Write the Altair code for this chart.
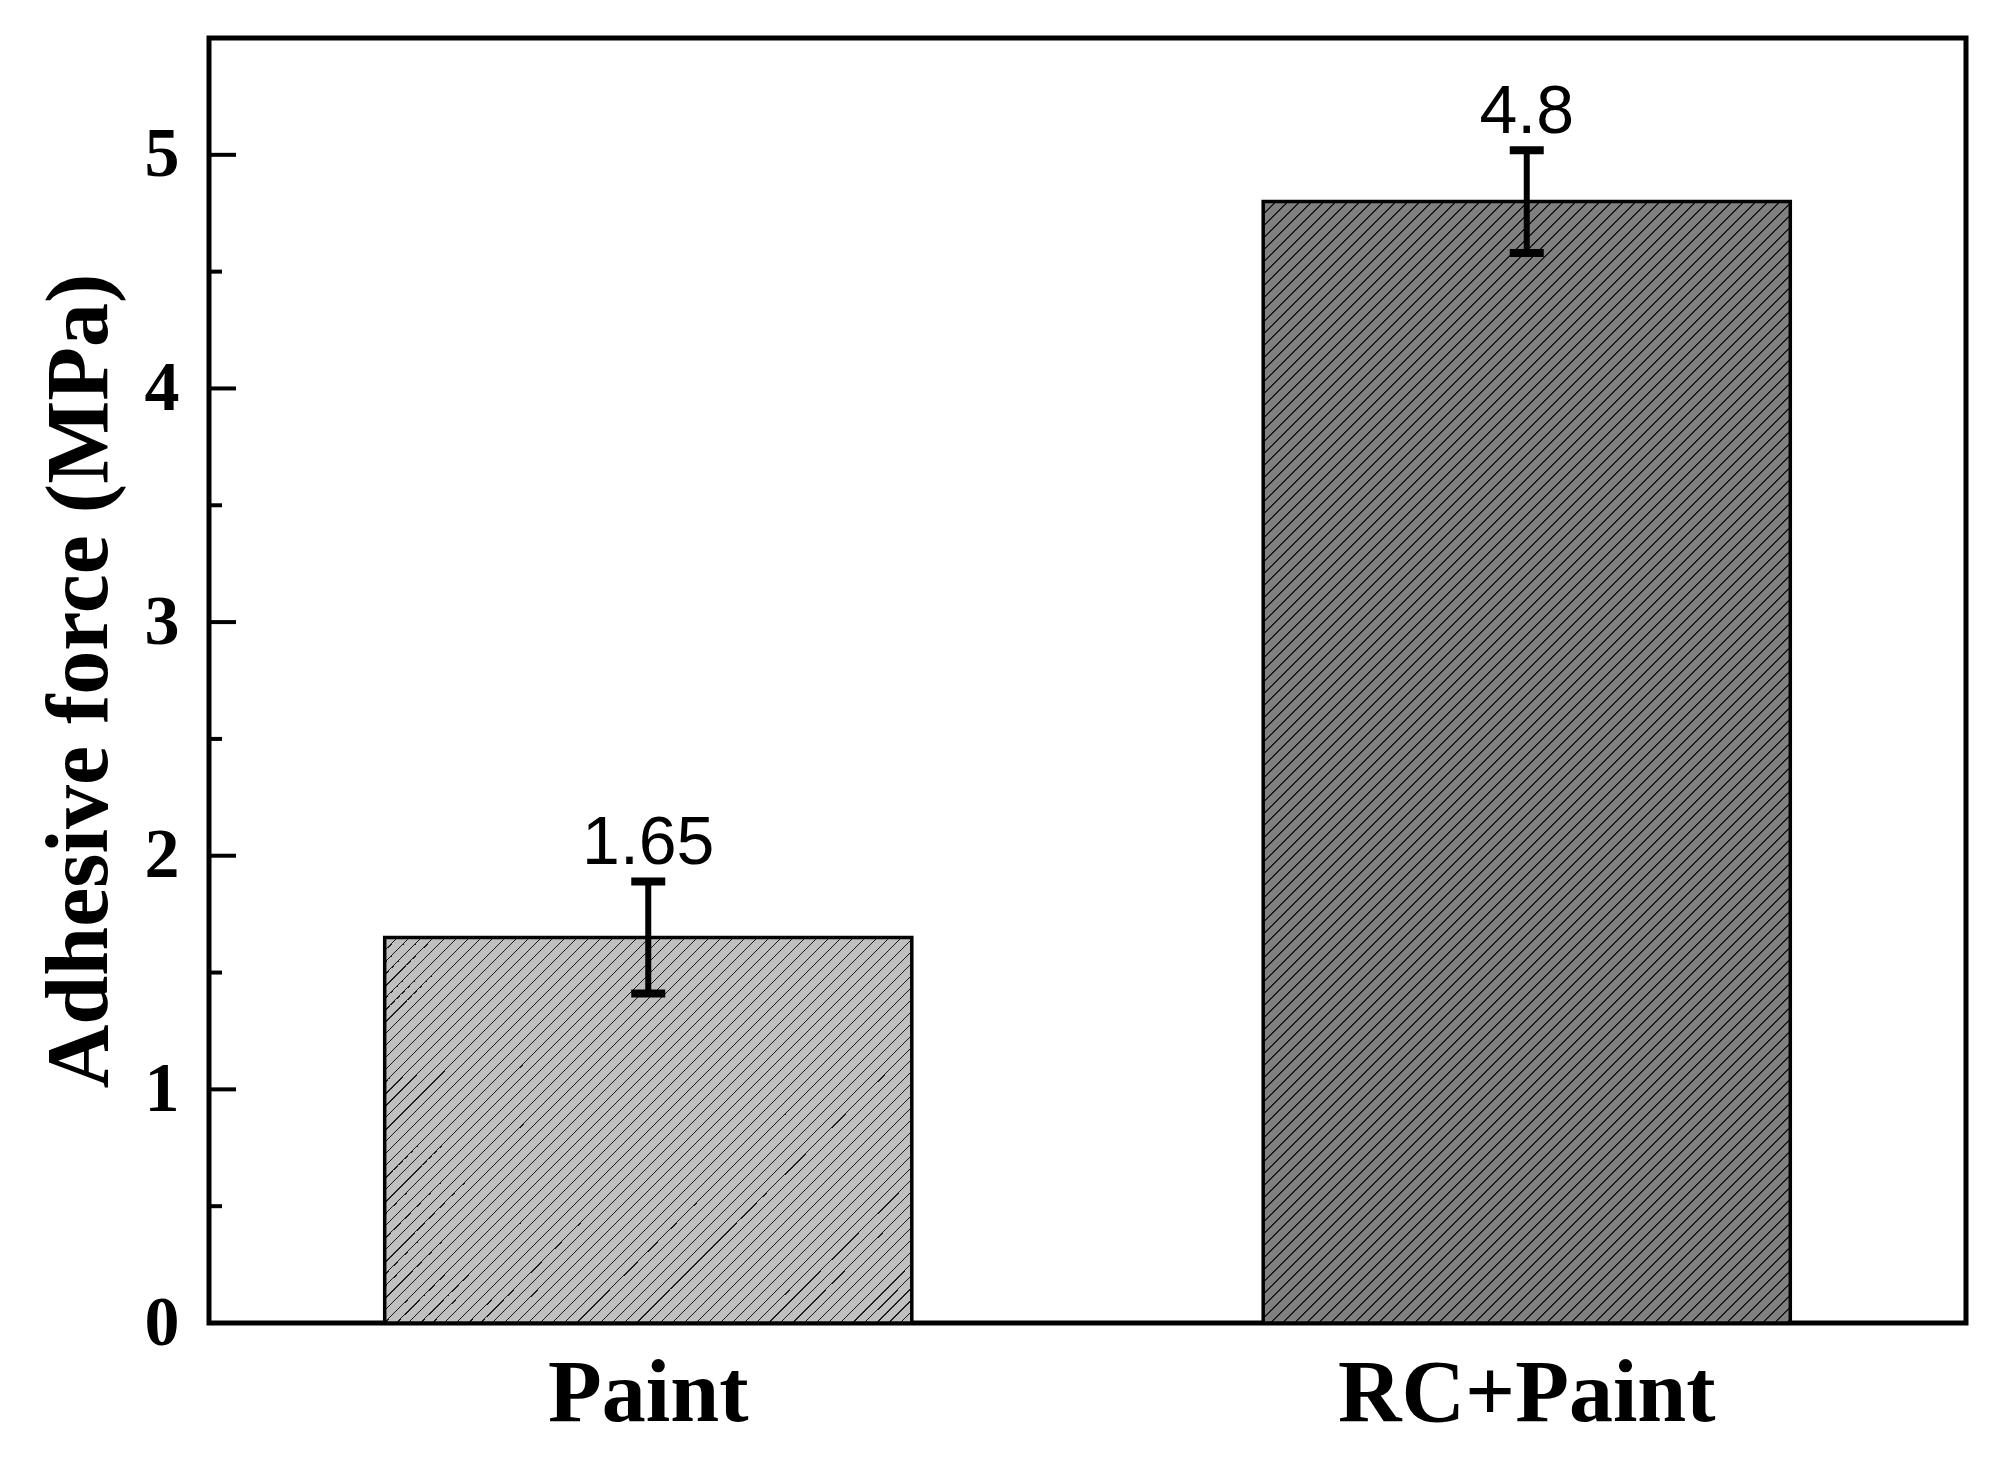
import altair as alt
import pandas as pd

# ---- data ----
categories = ["Paint", "RC+Paint"]
values = [1.65, 4.8]
errors = [0.24, 0.22]
fills = ["#c0c0c0", "#808080"]
y_ticks = [0, 1, 2, 3, 4, 5]
y_minor = [0.5, 1.5, 2.5, 3.5, 4.5, 5.5]

Y_MAX = 5.5
W, H = 1757, 1285
PAD_INNER, PAD_OUTER = 0.4, 0.2

df = pd.DataFrame({"cat": categories, "value": values, "err": errors})
df["lo"] = df["value"] - df["err"]
df["hi"] = df["value"] + df["err"]

x_scale = alt.Scale(domain=categories, paddingInner=PAD_INNER, paddingOuter=PAD_OUTER)
y_scale = alt.Scale(domain=[0, Y_MAX], nice=False, zero=True)

x_enc = alt.X("cat:N", scale=x_scale, sort=categories,
              axis=alt.Axis(title=None, labelAngle=0, ticks=False, tickSize=0, domain=False,
                            labelFont="Liberation Serif", labelFontWeight="bold",
                            labelFontSize=88, labelColor="black", labelLimit=0,
                            labelBaseline="alphabetic", labelPadding=97))
y_axis = alt.Axis(values=y_ticks, format="d", ticks=False, tickSize=0, domain=False,
                  grid=False, labelLimit=0,
                  labelFont="Liberation Serif", labelFontWeight="bold", labelFontSize=70,
                  labelColor="black", labelPadding=30,
                  title="Adhesive force (MPa)", titleFont="Liberation Serif",
                  titleFontWeight="bold", titleFontSize=88, titleColor="black",
                  titleAngle=270, titleAlign="center", titleBaseline="alphabetic",
                  titleX=-103, titleY=H / 2, titleLimit=0)

# hatch pattern ("/" lines) as a striped gradient in the bar's bounding box
step = W / (len(categories) - PAD_INNER + 2 * PAD_OUTER)
bar_w = step * (1 - PAD_INNER)
HATCH_GAP = 12.0      # px between lines along x / y
LINE_FRAC = 0.15


def hatch(value, fill):
    bh = value / Y_MAX * H
    total = bar_w + bh
    k = total / (bar_w ** 2 + bh ** 2)
    period = HATCH_GAP / total
    stops = []
    t = 0.0
    while t < 1.0:
        a = t
        b = min(t + period * LINE_FRAC, 1.0)
        c = min(t + period, 1.0)
        stops += [{"offset": a, "color": "#1a1a1a"}, {"offset": b, "color": "#1a1a1a"},
                  {"offset": b, "color": fill}, {"offset": c, "color": fill}]
        t += period
    return {"gradient": "linear", "x1": 0, "y1": 0,
            "x2": bar_w * k, "y2": bh * k, "stops": stops}


layers = []
for i, cat in enumerate(categories):
    bar = alt.Chart(df).transform_filter(alt.datum.cat == cat).mark_bar(
        fill=hatch(values[i], fills[i]), stroke="black", strokeWidth=3.5, opacity=1
    ).encode(x=x_enc, y=alt.Y("value:Q", scale=y_scale, axis=y_axis))
    layers.append(bar)

base = alt.Chart(df)
xe = alt.X("cat:N", scale=x_scale, sort=categories)
err_rule = base.mark_rule(color="black", strokeWidth=6, opacity=1).encode(
    x=xe, y=alt.Y("lo:Q", scale=y_scale), y2="hi:Q")
cap_hi = base.mark_tick(color="black", size=34, thickness=8, orient="horizontal",
                        opacity=1).encode(x=xe, y=alt.Y("hi:Q", scale=y_scale))
cap_lo = base.mark_tick(color="black", size=34, thickness=8, orient="horizontal",
                        opacity=1).encode(x=xe, y=alt.Y("lo:Q", scale=y_scale))
labels = base.mark_text(font="Liberation Sans", fontSize=68, color="black",
                        baseline="alphabetic", dy=-17).encode(
    x=xe, y=alt.Y("hi:Q", scale=y_scale), text=alt.Text("value:Q"))

major_df = pd.DataFrame({"v": y_ticks})
minor_df = pd.DataFrame({"v": y_minor})
major = alt.Chart(major_df).mark_rule(color="black", strokeWidth=4).encode(
    y=alt.Y("v:Q", scale=y_scale), x=alt.value(0), x2=alt.value(27))
minor = alt.Chart(minor_df).mark_rule(color="black", strokeWidth=4).encode(
    y=alt.Y("v:Q", scale=y_scale), x=alt.value(0), x2=alt.value(13))

chart = alt.layer(*layers, err_rule, cap_hi, cap_lo, labels, major, minor).properties(
    width=W, height=H,
    autosize=alt.AutoSizeParams(type="none"),
    padding={"left": 201, "top": 30, "right": 17, "bottom": 128},
    background="white",
).configure_view(stroke="black", strokeWidth=5)

chart.save("out.html", embed_options={"renderer": "svg", "actions": False})
